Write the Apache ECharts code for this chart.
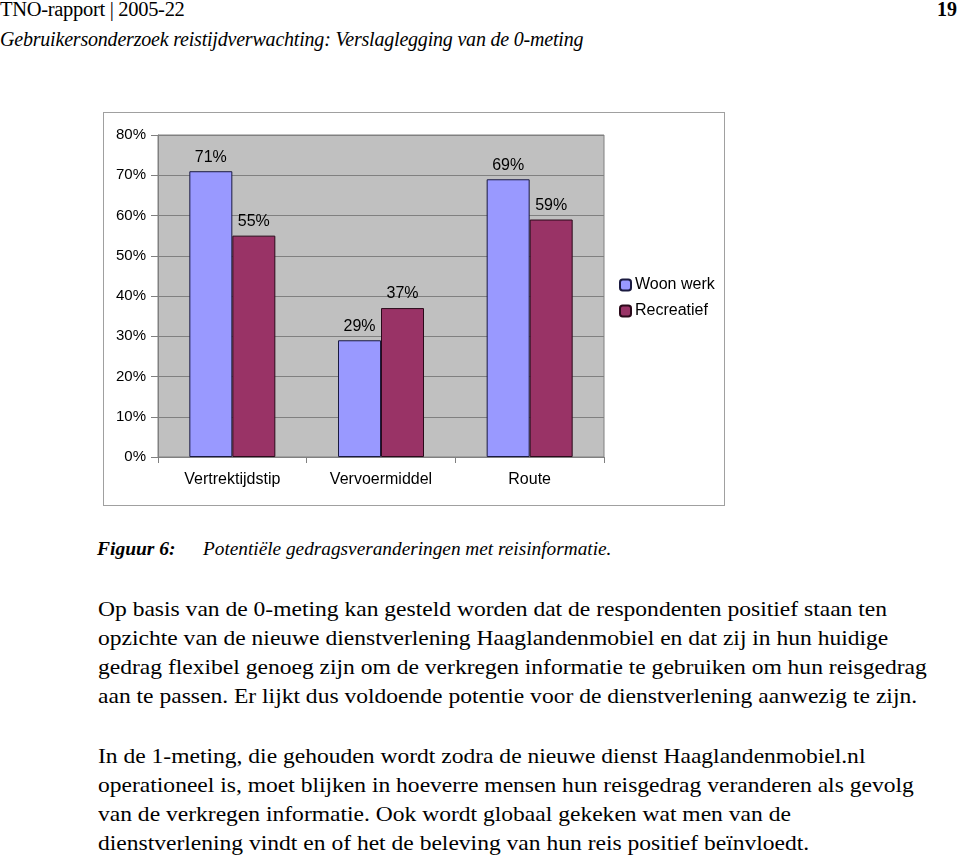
<!DOCTYPE html>
<html>
<head>
<meta charset="utf-8">
<script src="https://cdn.jsdelivr.net/npm/echarts@6/dist/echarts.min.js"></script>
<style>
  html, body { margin:0; padding:0; background:#fff; width:960px; height:862px; overflow:hidden; }
  .t { position:absolute; white-space:nowrap; font-family:"Liberation Serif","DejaVu Serif",serif; color:#000; }
  #box { position:absolute; left:103px; top:112px; width:620px; height:392px; border:1px solid #a0a0a0; background:#fff; }
  #chart { position:absolute; left:0; top:0; width:960px; height:862px; z-index:2; }
  .body { font-size:22px; left:98px; transform:scaleX(1.07); transform-origin:0 0; }
</style>
</head>
<body>
<div class="t" style="left:0;top:-2px;font-size:20.5px;letter-spacing:-0.3px;">TNO-rapport | 2005-22</div>
<div class="t" style="right:3px;top:-2px;font-size:20px;font-weight:bold;">19</div>
<div class="t" style="left:0;top:28px;font-size:20px;font-style:italic;letter-spacing:-0.2px;">Gebruikersonderzoek reistijdverwachting: Verslaglegging van de 0-meting</div>

<div id="box"></div>

<div class="t" style="left:97px;top:538px;font-size:19.5px;font-style:italic;font-weight:bold;">Figuur 6:</div>
<div class="t" style="left:203px;top:538px;font-size:19.3px;font-style:italic;">Potentiële gedragsveranderingen met reisinformatie.</div>

<div class="t body" style="top:596px;">Op basis van de 0-meting kan gesteld worden dat de respondenten positief staan ten</div>
<div class="t body" style="top:625px;">opzichte van de nieuwe dienstverlening Haaglandenmobiel en dat zij in hun huidige</div>
<div class="t body" style="top:654px;">gedrag flexibel genoeg zijn om de verkregen informatie te gebruiken om hun reisgedrag</div>
<div class="t body" style="top:683px;">aan te passen. Er lijkt dus voldoende potentie voor de dienstverlening aanwezig te zijn.</div>
<div class="t body" style="top:743px;">In de 1-meting, die gehouden wordt zodra de nieuwe dienst Haaglandenmobiel.nl</div>
<div class="t body" style="top:772px;">operationeel is, moet blijken in hoeverre mensen hun reisgedrag veranderen als gevolg</div>
<div class="t body" style="top:801px;">van de verkregen informatie. Ook wordt globaal gekeken wat men van de</div>
<div class="t body" style="top:830px;">dienstverlening vindt en of het de beleving van hun reis positief beïnvloedt.</div>

<div id="chart"></div>
<script>
const categories = ['Vertrektijdstip', 'Vervoermiddel', 'Route'];
const woonWerk = [71, 29, 69];
const recreatief = [55, 37, 59];
const seriesNames = ['Woon werk', 'Recreatief'];

const chart = echarts.init(document.getElementById('chart'), null, { renderer: 'canvas' });
const fontFamily = '"Liberation Sans", Arial, sans-serif';
const labelCfg = {
  show: true, position: 'top', distance: 6,
  formatter: p => p.value + '%',
  fontFamily, fontSize: 16, color: '#000'
};
chart.setOption({
  backgroundColor: 'transparent',
  animation: false,
  grid: {
    left: 158, top: 135, width: 446, height: 322,
    show: true, backgroundColor: '#c0c0c0', borderColor: '#808080', borderWidth: 1
  },
  legend: {
    orient: 'vertical', left: 614, top: 272,
    itemWidth: 11, itemHeight: 11, itemGap: 10,
    textStyle: { fontFamily, fontSize: 16, color: '#000', padding: [0, 0, 0, -1] },
    data: seriesNames
  },
  xAxis: {
    type: 'category', data: categories,
    axisLine: { lineStyle: { color: '#808080' } },
    axisTick: { show: true, length: 6, lineStyle: { color: '#808080' } },
    axisLabel: { fontFamily, fontSize: 16, color: '#000', margin: 15 }
  },
  yAxis: {
    type: 'value', min: 0, max: 80, interval: 10,
    axisLine: { show: true, lineStyle: { color: '#808080' } },
    axisTick: { show: true, length: 7, lineStyle: { color: '#808080' } },
    axisLabel: { fontFamily, fontSize: 15, color: '#000', margin: 12, formatter: '{value}%' },
    splitLine: { lineStyle: { color: '#808080', width: 1 } }
  },
  series: [
    {
      name: seriesNames[0], type: 'bar', data: woonWerk, barWidth: 43, barGap: '0%',
      itemStyle: { color: '#9999ff', borderColor: '#1a1a40', borderWidth: 1 },
      label: labelCfg
    },
    {
      name: seriesNames[1], type: 'bar', data: recreatief, barWidth: 43, barGap: '0%',
      itemStyle: { color: '#993366', borderColor: '#2a0a1a', borderWidth: 1 },
      label: labelCfg
    }
  ]
});
</script>
</body>
</html>
